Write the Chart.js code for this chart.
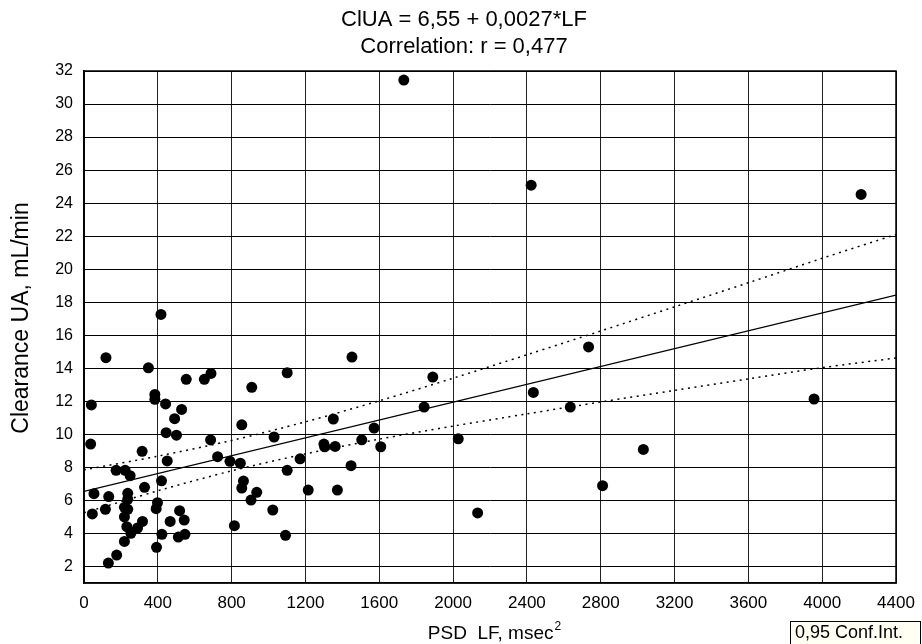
<!DOCTYPE html>
<html>
<head>
<meta charset="utf-8">
<script src="https://cdn.jsdelivr.net/npm/chart.js@4.4.1/dist/chart.umd.min.js"></script>
<style>
  html, body { margin: 0; padding: 0; background: #ffffff; }
  #wrap { width: 922px; height: 644px; position: relative; }
</style>
</head>
<body>
<div id="wrap"><canvas id="c" width="922" height="644"></canvas></div>
<script>
// ---- data ----
const titleLines = ["ClUA = 6,55 + 0,0027*LF", "Correlation: r = 0,477"];
const xTitle = "PSD  LF, msec";
const xTitleSup = "2";
const yTitle = "Clearance UA, mL/min";
const legendText = "0,95 Conf.Int.";

const xTickValues = [0, 400, 800, 1200, 1600, 2000, 2400, 2800, 3200, 3600, 4000, 4400];
const yTickValues = [2, 4, 6, 8, 10, 12, 14, 16, 18, 20, 22, 24, 26, 28, 30, 32];

const lfValues = [
  417, 119, 349, 554, 652, 688, 40, 384, 384, 442, 529, 491, 445, 501, 36, 315, 451, 174, 223, 250,
  420, 328, 54, 134, 237, 237, 45, 116, 219, 237, 219, 232, 254, 290, 317, 219, 177, 132, 393, 422,
  398, 391, 467, 518, 543, 511, 547, 686, 724, 791, 847, 855, 909, 864, 855, 936, 905, 815, 1030, 1023,
  1101, 1101, 1092, 1171, 1215, 1300, 1304, 1351, 1361, 1373, 1452, 1447, 1505, 1572, 1608, 1890, 1843, 2435, 2635, 2734,
  2028, 2133, 2810, 3031, 4211, 3956, 1733, 2423
];
const clearanceValues = [
  17.26, 14.64, 14.03, 13.33, 13.33, 13.69, 11.78, 12.42, 12.12, 11.84, 11.51, 10.95, 10.10, 9.95, 9.41, 8.97, 8.39, 7.82, 7.82, 7.50,
  7.19, 6.79, 6.41, 6.23, 6.43, 6.07, 5.18, 5.46, 5.58, 5.46, 5.00, 4.41, 4.01, 4.33, 4.73, 3.52, 2.69, 2.21, 3.16, 3.95,
  5.86, 5.50, 4.73, 5.38, 4.81, 3.78, 3.95, 9.66, 8.65, 8.37, 8.25, 10.58, 12.85, 7.17, 6.75, 6.49, 6.02, 4.47, 9.84, 5.42,
  13.73, 7.82, 3.89, 8.52, 6.63, 9.41, 9.25, 10.93, 9.27, 6.63, 14.68, 8.10, 9.67, 10.38, 9.25, 13.47, 11.65, 12.54, 11.65, 15.29,
  9.73, 5.24, 6.89, 9.09, 24.53, 12.14, 31.45, 25.09
];

const fitX = [0, 4400];
const fitY = [6.55, 18.43];

const bandX = [0, 400, 800, 1200, 1600, 2000, 2400, 2800, 3200, 3600, 4000, 4400];
const upperBand = [7.85, 8.68, 9.63, 10.76, 12.03, 13.40, 14.82, 16.26, 17.72, 19.18, 20.66, 22.10];
const lowerBand = [5.25, 6.58, 7.79, 8.82, 9.71, 10.50, 11.24, 11.96, 12.66, 13.36, 14.04, 14.62];

// ---- build datasets ----
const pts = lfValues.map((x, i) => ({ x: x, y: clearanceValues[i] }));
const fitPts = fitX.map((x, i) => ({ x: x, y: fitY[i] }));
const upPts = bandX.map((x, i) => ({ x: x, y: upperBand[i] }));
const loPts = bandX.map((x, i) => ({ x: x, y: lowerBand[i] }));

const FONT = "'Liberation Sans', Arial, Helvetica, sans-serif";

const textPlugin = {
  id: 'texts',
  afterDraw(chart) {
    const ctx = chart.ctx;
    ctx.save();
    ctx.fillStyle = '#000';
    // title
    ctx.font = "22px " + FONT;
    ctx.textAlign = 'center';
    ctx.textBaseline = 'middle';
    ctx.fillText(titleLines[0], 464, 20);
    ctx.fillText(titleLines[1], 464, 47);
    // y title
    ctx.save();
    ctx.translate(22, 318);
    ctx.rotate(-Math.PI / 2);
    ctx.font = "23px " + FONT;
    ctx.fillText(yTitle, 0, 0);
    ctx.restore();
    // x title
    ctx.font = "19px " + FONT;
    ctx.textAlign = 'left';
    ctx.textBaseline = 'alphabetic';
    const w1 = ctx.measureText(xTitle).width;
    ctx.font = "12px " + FONT;
    const w2 = ctx.measureText(xTitleSup).width;
    const start = 494 - (w1 + w2) / 2;
    ctx.font = "19px " + FONT;
    ctx.fillText(xTitle, start, 639);
    ctx.font = "12px " + FONT;
    ctx.fillText(xTitleSup, start + w1 + 1, 630);
    // legend box
    ctx.fillStyle = '#fffff4';
    ctx.fillRect(790, 621, 132, 23);
    ctx.strokeStyle = '#000';
    ctx.lineWidth = 1;
    ctx.strokeRect(790.5, 621.5, 130, 24);
    ctx.fillStyle = '#000';
    ctx.font = "18px " + FONT;
    ctx.textBaseline = 'middle';
    ctx.fillText(legendText, 795, 633);
    ctx.restore();
  }
};

new Chart(document.getElementById('c'), {
  type: 'scatter',
  data: {
    datasets: [
      { label: 'data', data: pts, backgroundColor: '#000', borderColor: '#000', pointRadius: 5.5, pointHoverRadius: 5.5, pointBorderWidth: 0, order: 1 },
      { label: 'fit', data: fitPts, showLine: true, borderColor: '#000', borderWidth: 1.3, pointRadius: 0, fill: false, order: 2 },
      { label: 'upper', data: upPts, showLine: true, borderColor: '#000', borderWidth: 1.5, borderDash: [2, 4.5], pointRadius: 0, tension: 0.3, fill: false, order: 3 },
      { label: 'lower', data: loPts, showLine: true, borderColor: '#000', borderWidth: 1.5, borderDash: [2, 4.5], pointRadius: 0, tension: 0.3, fill: false, order: 3 }
    ]
  },
  options: {
    responsive: false,
    animation: false,
    events: [],
    layout: { padding: { top: 71, right: 26, left: 0, bottom: 0 } },
    plugins: { legend: { display: false }, tooltip: { enabled: false }, title: { display: false } },
    scales: {
      x: {
        type: 'linear', min: 0, max: 4400,
        afterBuildTicks: (s) => { s.ticks = xTickValues.map(v => ({ value: v })); },
        afterFit: (s) => { s.height = 61; s.paddingRight = 0; s.paddingLeft = 0; },
        ticks: { color: '#000', font: { family: FONT, size: 17 }, padding: 10, maxRotation: 0, autoSkip: false, callback: (v) => String(v) },
        grid: { color: '#222', lineWidth: 1, drawTicks: false },
        border: { color: '#000', width: 1.5 }
      },
      y: {
        type: 'linear', min: 1, max: 32,
        afterBuildTicks: (s) => { s.ticks = yTickValues.map(v => ({ value: v })); },
        afterFit: (s) => { s.width = 84; s.paddingTop = 0; s.paddingBottom = 0; },
        ticks: { color: '#000', font: { family: FONT, size: 16 }, padding: 11, autoSkip: false, callback: (v) => String(v) },
        grid: { color: '#000', lineWidth: 1, drawTicks: false },
        border: { color: '#000', width: 1.5 }
      }
    }
  },
  plugins: [textPlugin, {
    id: 'frame',
    afterDatasetsDraw(chart) {
      const a = chart.chartArea, ctx = chart.ctx;
      ctx.save();
      ctx.strokeStyle = '#000';
      ctx.lineWidth = 1.5;
      ctx.strokeRect(a.left, a.top, a.right - a.left, a.bottom - a.top);
      ctx.restore();
    }
  }]
});
</script>
</body>
</html>
